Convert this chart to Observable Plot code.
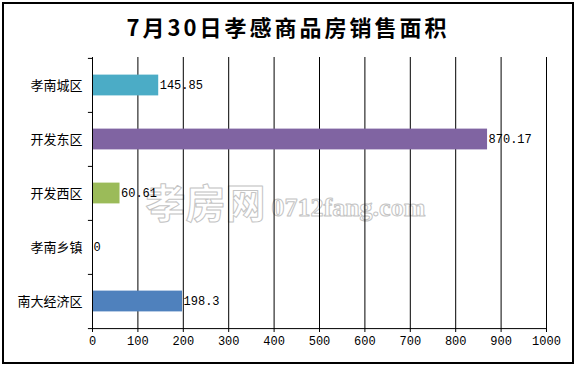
<!DOCTYPE html>
<html>
<head>
<meta charset="utf-8">
<script src="https://cdn.jsdelivr.net/npm/d3@7"></script>
<script src="https://cdn.jsdelivr.net/npm/@observablehq/plot@0.6"></script>
<style>
  html, body { margin: 0; padding: 0; background: #fff; }
  #wrap { position: relative; width: 576px; height: 366px; overflow: hidden; background: #fff; }
  #border { position: absolute; left: 2px; top: 2px; width: 572px; height: 362px; box-sizing: border-box; border: 2px solid #000; }
  #title { position: absolute; left: 0; top: 13px; width: 576px; text-align: center;
    font-family: "Noto Sans CJK SC", sans-serif; font-weight: bold; font-size: 22px; line-height: 26px; letter-spacing: 3px; color: #000; }
  #chart { position: absolute; left: 0; top: 50px; }
</style>
</head>
<body>
<div id="wrap">
  <div id="border"></div>
  <div id="title">7月30日孝感商品房销售面积</div>
  <div id="chart"></div>
</div>
<script>
const categories = ["孝南城区", "开发东区", "开发西区", "孝南乡镇", "南大经济区"];
const values = [145.85, 870.17, 60.61, 0, 198.3];
const colors = ["#4BACC6", "#8064A2", "#9BBB59", "#F79646", "#4F81BD"];
const xTicks = [0, 100, 200, 300, 400, 500, 600, 700, 800, 900, 1000];
const watermarkCn = ["孝房网"];
const watermarkEn = ["0712fang.com"];

const data = categories.map((c, i) => ({name: c, value: values[i], color: colors[i]}));

const W = 576, H = 312;
const mTop = 7, mBottom = 34, mLeft = 92, mRight = 30;
const step = (H - mTop - mBottom) / categories.length;
const barH = 21;
const inset = (step - barH) / 2;
const mono = "'Liberation Mono', 'DejaVu Sans Mono', monospace";
const cjk = "'Noto Sans CJK SC', sans-serif";

const chart = Plot.plot({
  width: W,
  height: H,
  marginTop: mTop,
  marginBottom: mBottom,
  marginLeft: mLeft,
  marginRight: mRight,
  style: {background: "transparent", color: "#000"},
  x: {domain: [0, 1000]},
  y: {domain: categories, padding: 0},
  marks: [
    Plot.text(watermarkCn, {frameAnchor: "top-left", dx: 53, dy: 160, text: d => d, textAnchor: "start", lineAnchor: "bottom",
      fill: "white", stroke: "#c4c4c4", strokeWidth: 1, paintOrder: "normal", fontSize: 40, fontFamily: cjk, fontWeight: "bold"}),
    Plot.text(watermarkEn, {frameAnchor: "top-left", dx: 179, dy: 158, text: d => d, textAnchor: "start", lineAnchor: "bottom",
      fill: "white", stroke: "#c4c4c4", strokeWidth: 1, paintOrder: "normal", fontSize: 26, fontFamily: "'Liberation Serif', serif", fontWeight: "bold"}),
    Plot.gridX(xTicks, {stroke: "#000", strokeOpacity: 1, strokeWidth: 1}),
    Plot.barX(data, {x: "value", y: "name", fill: "color", insetTop: inset, insetBottom: inset}),
    Plot.ruleY(categories, {y: d => d, x1: -9, x2: 0, dy: -step / 2, stroke: "#000"}),
    Plot.ruleY(categories.slice(-1), {y: d => d, x1: -9, x2: 1000, dy: step / 2, stroke: "#000"}),
    Plot.ruleX([0], {stroke: "#000"}),
    Plot.text(data, {x: "value", y: "name", text: d => String(d.value), textAnchor: "start", dx: 1,
      fill: "#000", fontSize: 12, fontFamily: mono}),
    Plot.axisX(xTicks, {tickSize: 4, tickPadding: 4, tickFormat: d => String(d), fontSize: 12, fontFamily: mono, label: null, stroke: "#000", fill: "#000"}),
    Plot.axisY({tickSize: 0, tickPadding: 10, fontSize: 13, fontFamily: cjk, label: null, fill: "#000"})
  ]
});
document.getElementById("chart").appendChild(chart);
</script>
</body>
</html>
